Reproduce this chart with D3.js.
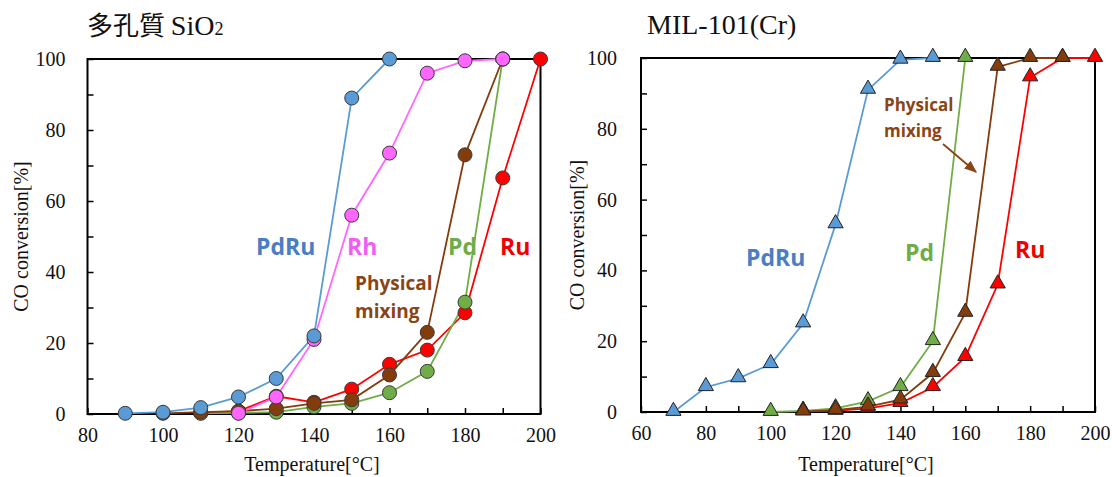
<!DOCTYPE html>
<html><head><meta charset="utf-8">
<script src="https://cdn.jsdelivr.net/npm/d3@7"></script>
<style>
html,body{margin:0;padding:0;background:#fff;}
svg{display:block;}
</style></head>
<body>
<svg id="chart" width="1112" height="477"></svg>
<script>
// ---------- Data ----------
// Left panel: porous SiO2 (circles)
const sio2Temps = {
  PdRu:     [90,100,110,120,130,140,150,160],
  Rh:       [120,130,140,150,160,170,180,190],
  Physical: [100,110,120,130,140,150,160,170,180,190],
  Pd:       [110,120,130,140,150,160,170,180,190],
  Ru:       [110,120,130,140,150,160,170,180,190,200]
};
const sio2PdRu     = [0.2,0.5,1.8,4.8,10,22,89,100];
const sio2Rh       = [0.2,4.8,21,56,73.5,96,99.5,100];
const sio2Physical = [0.2,0.5,0.8,1.5,3,4,11,23,73,100];
const sio2Pd       = [0.2,0.3,0.5,2,3,6,12,31.5,100];
const sio2Ru       = [0.3,0.8,5,3.3,7,14,18,28.5,66.5,100];

// Right panel: MIL-101(Cr) (triangles)
const milTemps = {
  PdRu:     [70,80,90,100,110,120,130,140,150],
  Pd:       [100,110,120,130,140,150,160],
  Physical: [110,120,130,140,150,160,170,180,190],
  Ru:       [110,120,130,140,150,160,170,180,190,200]
};
const milPdRu     = [0,7,9.5,13.5,25,53,91,99.5,100];
const milPd       = [0,0.3,1,3,7,20,100];
const milPhysical = [0.1,0.5,1.5,3.5,11,28,97.5,100,100];
const milRu       = [0.3,0.3,1,2.5,7,15.5,36,94.5,100,100];

const leftXTicks  = [80,100,120,140,160,180,200];
const rightXTicks = [60,80,100,120,140,160,180,200];
const yTicks      = [0,20,40,60,80,100];

const colors = {PdRu:"#5b9bd5", Rh:"#ff66ff", Physical:"#843c0c", Pd:"#70ad47", Ru:"#ff0000"};
const textColors = {PdRu:"#4a7dc4", Rh:"#f25ef2", Physical:"#8a4516", Pd:"#6fab47", Ru:"#f00000"};

const svg = d3.select("#chart");
const serif = '"Liberation Serif","DejaVu Serif",serif';
const sans = '"Open Sans","Noto Sans",sans-serif';

function panel(opt){
  const x = d3.scaleLinear().domain(opt.xDomain).range([opt.x0,opt.x1]);
  const y = d3.scaleLinear().domain([0,100]).range([opt.y1,opt.y0]);
  const g = svg.append("g");

  // minor ticks (inside) every 10
  const xMinor = d3.range(opt.xDomain[0], opt.xDomain[1]+1, 10);
  const yMinor = d3.range(0, 101, 10);
  const gx = g.append("g").attr("transform",`translate(0,${opt.y1})`)
    .call(d3.axisBottom(x).tickValues(xMinor).tickSizeInner(-6).tickSizeOuter(0)
      .tickFormat(d => opt.xTicks.includes(d) ? d : ""))
    .attr("font-family",serif).attr("font-size",20);
  gx.select(".domain").remove();
  gx.selectAll(".tick line").attr("stroke","#000").attr("stroke-width",1.5);
  gx.selectAll(".tick text").attr("fill","#111").attr("dy","1.0em").attr("y",8);
  const gy = g.append("g").attr("transform",`translate(${opt.x0},0)`)
    .call(d3.axisLeft(y).tickValues(yMinor).tickSizeInner(-6).tickSizeOuter(0)
      .tickFormat(d => yTicks.includes(d) ? d : ""))
    .attr("font-family",serif).attr("font-size",20);
  gy.select(".domain").remove();
  gy.selectAll(".tick line").attr("stroke","#000").attr("stroke-width",1.5);
  gy.selectAll(".tick text").attr("fill","#111").attr("x",-opt.ylabGap);

  // frame
  g.append("rect").attr("x",opt.x0).attr("y",opt.y0)
    .attr("width",opt.x1-opt.x0).attr("height",opt.y1-opt.y0)
    .attr("fill","none").attr("stroke","#000").attr("stroke-width",2);

  // series
  const line = d3.line().x(d=>x(d[0])).y(d=>y(d[1]));
  opt.series.forEach(s=>{
    const pts = s.t.map((t,i)=>[t,s.v[i]]);
    g.append("path").datum(pts).attr("d",line)
      .attr("fill","none").attr("stroke",colors[s.key]).attr("stroke-width",1.8);
  });
  opt.series.forEach(s=>{
    const pts = s.t.map((t,i)=>[t,s.v[i]]);
    if(opt.shape==="circle"){
      g.selectAll(null).data(pts).enter().append("circle")
        .attr("cx",d=>x(d[0])).attr("cy",d=>y(d[1])).attr("r",7)
        .attr("fill",colors[s.key]).attr("stroke","#3a3a3a").attr("stroke-width",1);
    } else {
      const sym = d3.symbol().type(d3.symbolTriangle).size(100);
      g.selectAll(null).data(pts).enter().append("path")
        .attr("d",sym).attr("transform",d=>`translate(${x(d[0])},${y(d[1])-1})`)
        .attr("fill",colors[s.key]).attr("stroke","#222").attr("stroke-width",1);
    }
  });

  // axis titles
  g.append("text").attr("x",(opt.x0+opt.x1)/2 - 2).attr("y",471)
    .attr("text-anchor","middle").attr("font-family",serif).attr("font-size",20).attr("fill","#111")
    .text("Temperature[°C]");
  g.append("text").attr("transform",`translate(${opt.yTitleX},${(opt.y0+opt.y1)/2}) rotate(-90)`)
    .attr("text-anchor","middle").attr("font-family",serif).attr("font-size",20).attr("fill","#111")
    .text("CO conversion[%]");

  // series labels
  opt.labels.forEach(l=>{
    g.append("text").attr("x",l.x).attr("y",l.y).attr("font-family",sans).attr("font-weight","bold")
      .attr("font-size",l.size).attr("fill",textColors[l.key]).text(l.text);
  });
  return {x,y,g};
}

// ---------- Left panel ----------
panel({
  xDomain:[80,200], xTicks:leftXTicks, x0:87.5, x1:540.5, y0:59, y1:414, ylabGap:22, yTitleX:28,
  shape:"circle",
  series:[
    {key:"Ru", t:sio2Temps.Ru, v:sio2Ru},
    {key:"Pd", t:sio2Temps.Pd, v:sio2Pd},
    {key:"Physical", t:sio2Temps.Physical, v:sio2Physical},
    {key:"Rh", t:sio2Temps.Rh, v:sio2Rh},
    {key:"PdRu", t:sio2Temps.PdRu, v:sio2PdRu}
  ],
  labels:[
    {key:"PdRu", text:"PdRu", x:256, y:255, size:23},
    {key:"Rh", text:"Rh", x:347, y:255, size:23},
    {key:"Pd", text:"Pd", x:448, y:255, size:23},
    {key:"Ru", text:"Ru", x:500, y:255, size:23},
    {key:"Physical", text:"Physical", x:355, y:290, size:19},
    {key:"Physical", text:"mixing", x:355, y:318, size:19}
  ]
});

// ---------- Right panel ----------
panel({
  xDomain:[60,200], xTicks:rightXTicks, x0:641, x1:1095, y0:58, y1:412, ylabGap:24, yTitleX:584,
  shape:"triangle",
  series:[
    {key:"Ru", t:milTemps.Ru, v:milRu},
    {key:"Pd", t:milTemps.Pd, v:milPd},
    {key:"PdRu", t:milTemps.PdRu, v:milPdRu},
    {key:"Physical", t:milTemps.Physical, v:milPhysical}
  ],
  labels:[
    {key:"PdRu", text:"PdRu", x:746, y:266, size:23},
    {key:"Pd", text:"Pd", x:905, y:261, size:23},
    {key:"Ru", text:"Ru", x:1015, y:258, size:23},
    {key:"Physical", text:"Physical", x:884, y:111, size:17},
    {key:"Physical", text:"mixing", x:884, y:137, size:17}
  ]
});

// arrow
svg.append("defs").append("marker").attr("id","arr").attr("viewBox","0 0 10 10")
  .attr("refX",9).attr("refY",5).attr("markerWidth",7).attr("markerHeight",7).attr("orient","auto")
  .append("path").attr("d","M0,1 L10,5 L0,9 Z").attr("fill",textColors.Physical);
svg.append("line").attr("x1",943).attr("y1",144).attr("x2",976).attr("y2",172)
  .attr("stroke",textColors.Physical).attr("stroke-width",1.8).attr("marker-end","url(#arr)");

// titles
const t1 = svg.append("text").attr("x",87).attr("y",35).attr("font-size",26).attr("fill","#111");
t1.append("tspan").attr("font-family",'"Noto Sans CJK JP",sans-serif').text("多孔質 ");
t1.append("tspan").attr("font-family",serif).attr("font-size",28).text("SiO");
t1.append("tspan").attr("font-family",serif).attr("font-size",18).text("2");
svg.append("text").attr("x",647).attr("y",34).attr("font-family",serif).attr("font-size",28)
  .attr("fill","#111").text("MIL-101(Cr)");
</script>
</body></html>
